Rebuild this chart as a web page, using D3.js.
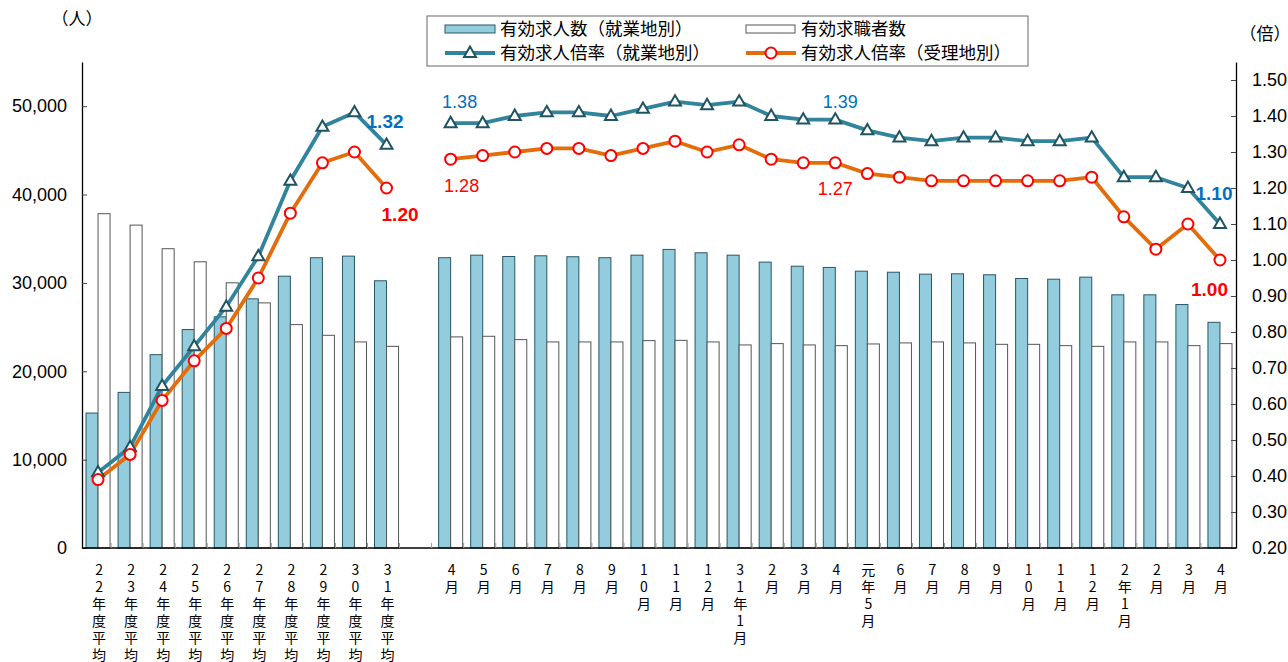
<!DOCTYPE html>
<html>
<head>
<meta charset="utf-8">
<script src="https://cdn.jsdelivr.net/npm/d3@7"></script>
<style>
  body { margin: 0; background: #fff; }
  svg { display: block; }
  .num { font-family: "Liberation Sans", Arial, sans-serif; }
  .jp { font-family: "Noto Sans CJK JP", sans-serif; }
</style>
</head>
<body>
<div id="chart"></div>
<script>
// categories ("" = empty slot between yearly averages and months)
var categories = [
  "22年度平均", "23年度平均", "24年度平均", "25年度平均", "26年度平均",
  "27年度平均", "28年度平均", "29年度平均", "30年度平均", "31年度平均",
  "",
  "4月", "5月", "6月", "7月", "8月", "9月", "10月", "11月", "12月",
  "31年1月", "2月", "3月", "4月",
  "元年5月", "6月", "7月", "8月", "9月", "10月", "11月", "12月",
  "2年1月", "2月", "3月", "4月"
];

// 有効求人数（就業地別）
var jobOffers = [
  15270, 17610, 21880, 24720, 26160, 28200, 30760, 32850, 33030, 30240,
  null,
  32850, 33140, 32990, 33070, 32960, 32850, 33140, 33790, 33410,
  33140, 32350, 31890, 31750,
  31330, 31210, 30990, 31030, 30920, 30500, 30420, 30650,
  28650, 28650, 27550, 25540
];

// 有効求職者数
var jobSeekers = [
  37830, 36540, 33870, 32390, 30010, 27740, 25280, 24070, 23320, 22820,
  null,
  23890, 23960, 23580, 23320, 23320, 23320, 23470, 23500, 23320,
  22980, 23130, 22980, 22900,
  23090, 23210, 23320, 23210, 23050, 23050, 22900, 22820,
  23320, 23320, 22900, 23130
];

// 有効求人倍率（就業地別）
var ratioWork = [
  0.41, 0.48, 0.65, 0.76, 0.87, 1.01, 1.22, 1.37, 1.41, 1.32,
  null,
  1.38, 1.38, 1.40, 1.41, 1.41, 1.40, 1.42, 1.44, 1.43,
  1.44, 1.40, 1.39, 1.39,
  1.36, 1.34, 1.33, 1.34, 1.34, 1.33, 1.33, 1.34,
  1.23, 1.23, 1.20, 1.10
];

// 有効求人倍率（受理地別）
var ratioRecv = [
  0.39, 0.46, 0.61, 0.72, 0.81, 0.95, 1.13, 1.27, 1.30, 1.20,
  null,
  1.28, 1.29, 1.30, 1.31, 1.31, 1.29, 1.31, 1.33, 1.30,
  1.32, 1.28, 1.27, 1.27,
  1.24, 1.23, 1.22, 1.22, 1.22, 1.22, 1.22, 1.23,
  1.12, 1.03, 1.10, 1.00
];

var leftTicks = [0, 10000, 20000, 30000, 40000, 50000];
var rightTicks = [0.2, 0.3, 0.4, 0.5, 0.6, 0.7, 0.8, 0.9, 1.0, 1.1, 1.2, 1.3, 1.4, 1.5];

var legendNames = ["有効求人数（就業地別）", "有効求職者数", "有効求人倍率（就業地別）", "有効求人倍率（受理地別）"];

// value labels: category index, series, shown text
var noteIndex  = [9, 9, 11, 11, 23, 23, 35, 35];
var noteSeries = ["work", "recv", "work", "recv", "work", "recv", "work", "recv"];
var noteText   = ["1.32", "1.20", "1.38", "1.28", "1.39", "1.27", "1.10", "1.00"];

// ---- drawing ----
var W = 1288, H = 662;
var plot = {left: 82, right: 1236, top: 62, bottom: 548};

var colBar = "#93cddd", colBarLine = "#2b5563";
var colWork = "#31849b", colWorkMark = "#1f5462";
var colRecv = "#e46c0a", colRecvMark = "#ff0000";

var svg = d3.select("#chart").append("svg")
  .attr("width", W).attr("height", H);

var x = d3.scaleBand()
  .domain(d3.range(categories.length))
  .range([plot.left, plot.right])
  .padding(0);
var step = x.step();
var barW = step * 0.375;
function cx(i) { return x(i) + step / 2; }

var yL = d3.scaleLinear().domain([0, 55000]).range([plot.bottom, plot.top]);
var yR = d3.scaleLinear().domain([0.2, 1.55]).range([plot.bottom, plot.top]);

// bars
var idx = d3.range(categories.length);
svg.append("g").selectAll("rect")
  .data(idx.filter(function(i) { return jobOffers[i] != null; }))
  .enter().append("rect")
  .attr("x", function(i) { return cx(i) - barW; })
  .attr("y", function(i) { return yL(jobOffers[i]); })
  .attr("width", barW)
  .attr("height", function(i) { return yL(0) - yL(jobOffers[i]); })
  .attr("fill", colBar)
  .attr("stroke", colBarLine)
  .attr("stroke-width", 1);

svg.append("g").selectAll("rect")
  .data(idx.filter(function(i) { return jobSeekers[i] != null; }))
  .enter().append("rect")
  .attr("x", function(i) { return cx(i); })
  .attr("y", function(i) { return yL(jobSeekers[i]); })
  .attr("width", barW)
  .attr("height", function(i) { return yL(0) - yL(jobSeekers[i]); })
  .attr("fill", "#fff")
  .attr("stroke", "#555")
  .attr("stroke-width", 1);

// axes
var axL = svg.append("g")
  .attr("transform", "translate(" + plot.left + ",0)")
  .call(d3.axisLeft(yL).tickValues(leftTicks).tickFormat(d3.format(","))
    .tickSize(-5).tickSizeOuter(0).tickPadding(15));
axL.selectAll("text").attr("class", "num").attr("font-size", 18).attr("fill", "#000");

var axR = svg.append("g")
  .attr("transform", "translate(" + plot.right + ",0)")
  .call(d3.axisRight(yR).tickValues(rightTicks).tickFormat(d3.format(".2f"))
    .tickSize(-5).tickSizeOuter(0).tickPadding(16));
axR.selectAll("text").attr("class", "num").attr("font-size", 18).attr("fill", "#000");

svg.selectAll(".domain").attr("stroke", "#000").attr("stroke-width", 1.3);
svg.selectAll(".tick line").attr("stroke", "#444");

// x baseline + small category separators
svg.append("line")
  .attr("x1", plot.left).attr("x2", plot.right)
  .attr("y1", plot.bottom).attr("y2", plot.bottom)
  .attr("stroke", "#000").attr("stroke-width", 1.3);

svg.append("g").selectAll("line")
  .data(d3.range(categories.length - 1))
  .enter().append("line")
  .attr("x1", function(i) { return x(i) + step - 3; })
  .attr("x2", function(i) { return x(i) + step - 3; })
  .attr("y1", plot.bottom - 5).attr("y2", plot.bottom)
  .attr("stroke", "#999");

// x labels, one character per row (one text per category)
var xl = svg.append("g").attr("class", "jp");
categories.forEach(function(c, i) {
  if (!c) return;
  var t = xl.append("text")
    .attr("text-anchor", "middle")
    .attr("font-size", 14);
  Array.from(c).forEach(function(ch, k) {
    t.append("tspan")
      .attr("x", cx(i) + 1)
      .attr("y", 575 + k * 17)
      .text(ch);
  });
});

// lines
function drawLine(vals, color) {
  var line = d3.line()
    .defined(function(i) { return vals[i] != null; })
    .x(function(i) { return cx(i); })
    .y(function(i) { return yR(vals[i]); });
  svg.append("path")
    .attr("d", line(idx))
    .attr("fill", "none")
    .attr("stroke", color)
    .attr("stroke-width", 3.8)
    .attr("stroke-linejoin", "round");
}
drawLine(ratioWork, colWork);
drawLine(ratioRecv, colRecv);

var tri = d3.symbol().type(d3.symbolTriangle).size(62);

svg.append("g").selectAll("path")
  .data(idx.filter(function(i) { return ratioWork[i] != null; }))
  .enter().append("path")
  .attr("d", tri)
  .attr("transform", function(i) { return "translate(" + cx(i) + "," + (yR(ratioWork[i]) + 0.5) + ")"; })
  .attr("fill", "#fff")
  .attr("stroke", colWorkMark)
  .attr("stroke-width", 2);

svg.append("g").selectAll("circle")
  .data(idx.filter(function(i) { return ratioRecv[i] != null; }))
  .enter().append("circle")
  .attr("cx", function(i) { return cx(i); })
  .attr("cy", function(i) { return yR(ratioRecv[i]); })
  .attr("r", 5.5)
  .attr("fill", "#fff")
  .attr("stroke", colRecvMark)
  .attr("stroke-width", 2);

// value labels
var noteDx = [-1.5, 13.5, 9, 11, 5, 0, -6, -10.5];
var noteDy = [-17, 33, -15, 32.5, -11.5, 32, -24.5, 35.5];
var noteBold = [true, true, false, false, false, false, true, true];
noteIndex.forEach(function(i, k) {
  var v = noteSeries[k] === "work" ? ratioWork[i] : ratioRecv[i];
  svg.append("text")
    .attr("class", "num")
    .attr("x", cx(i) + noteDx[k])
    .attr("y", yR(v) + noteDy[k])
    .attr("text-anchor", "middle")
    .attr("font-size", noteBold[k] ? 19 : 18)
    .attr("font-weight", noteBold[k] ? "bold" : "normal")
    .attr("fill", noteSeries[k] === "work" ? "#0070c0" : "#ff0000")
    .text(noteText[k]);
});

// unit labels
svg.append("text").attr("class", "jp").attr("x", 77).attr("y", 25)
  .attr("text-anchor", "middle").attr("font-size", 17).text("（人）");
svg.append("text").attr("class", "jp").attr("x", 1265).attr("y", 40)
  .attr("text-anchor", "middle").attr("font-size", 17).text("（倍）");

// legend
var lg = svg.append("g");
lg.append("rect")
  .attr("x", 427).attr("y", 16).attr("width", 601).attr("height", 50)
  .attr("fill", "#fff").attr("stroke", "#666");

var lgX = [445, 746, 445, 746];
var lgY = [29, 29, 53, 53];
legendNames.forEach(function(name, k) {
  var sx = lgX[k], sy = lgY[k];
  if (k === 0) {
    lg.append("rect").attr("x", sx).attr("y", sy - 4).attr("width", 50).attr("height", 8)
      .attr("fill", colBar).attr("stroke", colBarLine);
  } else if (k === 1) {
    lg.append("rect").attr("x", sx).attr("y", sy - 4).attr("width", 49).attr("height", 8)
      .attr("fill", "#fff").attr("stroke", "#555");
  } else if (k === 2) {
    lg.append("line").attr("x1", sx).attr("x2", sx + 50).attr("y1", sy).attr("y2", sy)
      .attr("stroke", colWork).attr("stroke-width", 3.8);
    lg.append("path").attr("d", tri)
      .attr("transform", "translate(" + (sx + 25) + "," + (sy + 0.5) + ")")
      .attr("fill", "#fff").attr("stroke", colWorkMark).attr("stroke-width", 2);
  } else {
    lg.append("line").attr("x1", sx).attr("x2", sx + 50).attr("y1", sy).attr("y2", sy)
      .attr("stroke", colRecv).attr("stroke-width", 3.8);
    lg.append("circle").attr("cx", sx + 25).attr("cy", sy).attr("r", 5.5)
      .attr("fill", "#fff").attr("stroke", colRecvMark).attr("stroke-width", 2);
  }
  lg.append("text").attr("class", "jp")
    .attr("x", sx + 55).attr("y", sy + 6)
    .attr("font-size", 17.5)
    .text(name);
});
</script>
</body>
</html>
